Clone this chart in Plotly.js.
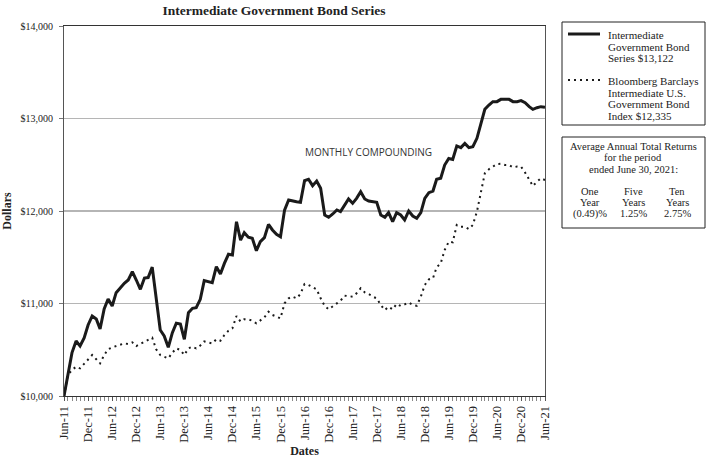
<!DOCTYPE html>
<html><head><meta charset="utf-8">
<script src="https://cdn.plot.ly/plotly-3.0.1.min.js"></script>
<style>html,body{margin:0;padding:0;background:#fff}#chart{width:707px;height:458px}</style>
</head><body><div id="chart"></div>
<script>
// Month-end dates Jun-11 .. Jun-21 (121 points)
const startYear = 2011, startMonth = 6, monthCount = 121;
const months = [];
for (let i = 0; i < monthCount; i++) {
  const m = startMonth - 1 + i;
  const y = startYear + Math.floor(m / 12);
  const mm = (m % 12) + 1;
  months.push(y + '-' + String(mm).padStart(2, '0') + '-01');
}

const fundLegend = ['Intermediate', 'Government Bond', 'Series $13,122'];
const indexLegend = ['Bloomberg Barclays', 'Intermediate U.S.', 'Government Bond', 'Index $12,335'];

const fundValues = [
  10000,10250,10470,10595,10540,10627,10768,10865,10832,10724,
  10940,11048,10973,11117,11171,11218,11254,11344,11254,11153,
  11275,11280,11393,11074,10713,10649,10526,10685,10786,10778,
  10613,10901,10948,10955,11045,11247,11236,11225,11398,11319,
  11434,11532,11524,11884,11686,11766,11716,11705,11571,11668,
  11712,11856,11795,11748,11722,12010,12119,12108,12100,12094,
  12328,12343,12274,12324,12245,11957,11932,11968,12011,11993,
  12065,12130,12083,12137,12209,12130,12108,12101,12094,11957,
  11932,11982,11884,11982,11957,11903,12000,11946,11921,11982,
  12137,12198,12216,12343,12354,12497,12568,12558,12703,12685,
  12731,12685,12696,12786,12937,13099,13146,13182,13182,13207,
  13207,13207,13182,13182,13193,13171,13128,13099,13117,13128,
  13122
];

const indexValues = [
  10000,10227,10281,10317,10299,10346,10397,10443,10397,10353,
  10443,10505,10526,10540,10562,10569,10562,10580,10540,10562,
  10587,10605,10630,10505,10443,10425,10407,10468,10515,10497,
  10443,10515,10533,10515,10545,10590,10580,10569,10613,10598,
  10659,10706,10732,10865,10804,10829,10829,10814,10786,10822,
  10850,10911,10876,10858,10840,11002,11056,11074,11056,11103,
  11211,11200,11175,11153,11056,10973,10937,10973,11002,11030,
  11085,11080,11074,11110,11164,11121,11103,11074,11056,10984,
  10930,10965,10937,10995,10973,10990,11010,10985,10975,11074,
  11200,11261,11272,11391,11434,11578,11668,11661,11849,11830,
  11830,11805,11849,11993,12191,12407,12451,12480,12508,12510,
  12497,12497,12472,12480,12480,12415,12335,12270,12317,12354,
  12335
];

const yTicks = [10000, 11000, 12000, 13000, 14000];

const returnsHeader = ['Average Annual Total Returns', 'for the period', 'ended June 30, 2021:'];
const periodTop = ['One', 'Five', 'Ten'];
const periodBottom = ['Year', 'Years', 'Years'];
const avgReturns = ['(0.49)%', '1.25%', '2.75%'];

const SERIF = 'Liberation Serif, Times New Roman, serif';
const INK = '#1a1a1a';

// helpers: pixel -> paper (plot area l=64, r=545, t=26, b=396)
const L = 64, R = 545, T = 26, B = 396;
const px = x => (x - L) / (R - L);
const py = y => (B - y) / (B - T);

const traces = [
  {x: months, y: fundValues, name: fundLegend.join(' '), type: 'scatter', mode: 'lines',
   line: {color: INK, width: 3}, showlegend: false},
  {x: months, y: indexValues, name: indexLegend.join(' '), type: 'scatter', mode: 'lines',
   line: {color: INK, width: 2, dash: '2px,4px'}, showlegend: false}
];

const txt = (t, x, y, size, anchor) => ({text: t, xref: 'paper', yref: 'paper', x: px(x), y: py(y),
  showarrow: false, xanchor: anchor || 'center', yanchor: 'middle',
  font: {family: SERIF, size: size, color: '#222'}});

const annotations = [
  {text: 'MONTHLY COMPOUNDING', xref: 'paper', yref: 'paper', x: px(368), y: py(152),
   showarrow: false, font: {family: 'Open Sans, sans-serif', size: 10, color: '#333'}}
];
// legend box text
const fundLegendY = [35, 46.5, 58];
const indexLegendY = [81, 92.7, 104.4, 116];
fundLegend.forEach((t, i) => annotations.push(txt(t, 606, fundLegendY[i], 11, 'left')));
indexLegend.forEach((t, i) => annotations.push(txt(t, 606, indexLegendY[i], 11, 'left')));
// returns box text
const headerY = [146, 157.5, 169];
returnsHeader.forEach((t, i) => annotations.push(txt(t, 633, headerY[i], 10.5)));
const colX = [590, 633, 677];
const rows = [[periodTop, 191], [periodBottom, 202.5], [avgReturns, 214]];
rows.forEach(([arr, yy]) => arr.forEach((t, i) => annotations.push(txt(t, colX[i], yy, 10.5))));

const layout = {
  width: 707, height: 458,
  margin: {l: L, r: 707 - R, t: T, b: 458 - B, pad: 0},
  paper_bgcolor: '#fff', plot_bgcolor: '#fff',
  title: {text: '<b>Intermediate Government Bond Series</b>', x: px(274), xref: 'paper', xanchor: 'center',
          y: 1 - 10 / 458, yref: 'container', yanchor: 'middle',
          font: {family: SERIF, size: 13.5, color: '#222'}},
  font: {family: SERIF, size: 11, color: '#222'},
  showlegend: false,
  xaxis: {
    type: 'date', range: [months[0], months[monthCount - 1]],
    tick0: months[0], dtick: 'M6', tickformat: '%b-%y', tickangle: -90,
    ticks: 'outside', ticklen: 4, tickcolor: '#555',
    minor: {dtick: 'M1', ticks: 'outside', ticklen: 4, tickcolor: '#888', showgrid: false},
    showgrid: false, showline: true, linecolor: '#333', linewidth: 1, mirror: true,
    tickfont: {family: SERIF, size: 12.5, color: '#222'},
    title: {text: '<b>Dates</b>', font: {family: SERIF, size: 12, color: '#222'}, standoff: 4}
  },
  yaxis: {
    range: [10000, 14000], tickvals: yTicks, tickformat: '$,.0f',
    ticks: 'outside', ticklen: 4, tickcolor: '#777', ticklabelstandoff: 4,
    showgrid: true, gridcolor: '#b5b5b5', gridwidth: 1.5, zeroline: false,
    showline: true, linecolor: '#555', linewidth: 1, mirror: true,
    tickfont: {family: SERIF, size: 10, color: '#222'},
    title: {text: '<b>Dollars</b>', font: {family: SERIF, size: 12, color: '#222'}, standoff: 6}
  },
  shapes: [
    {type: 'rect', xref: 'paper', yref: 'paper', x0: px(562), x1: px(705), y0: py(125), y1: py(22),
     line: {color: '#222', width: 1}, fillcolor: 'rgba(0,0,0,0)'},
    {type: 'rect', xref: 'paper', yref: 'paper', x0: px(562), x1: px(705), y0: py(228), y1: py(137),
     line: {color: '#222', width: 1}, fillcolor: 'rgba(0,0,0,0)'},
    // legend samples
    {type: 'line', xref: 'paper', yref: 'paper', x0: px(568), x1: px(600), y0: py(34), y1: py(34),
     line: {color: INK, width: 3}},
    {type: 'line', xref: 'paper', yref: 'paper', x0: px(568), x1: px(600), y0: py(80), y1: py(80),
     line: {color: INK, width: 2, dash: '2px,4px'}}
  ],
  annotations: annotations
};

Plotly.newPlot('chart', traces, layout, {displayModeBar: false, staticPlot: true});
</script>
</body></html>
